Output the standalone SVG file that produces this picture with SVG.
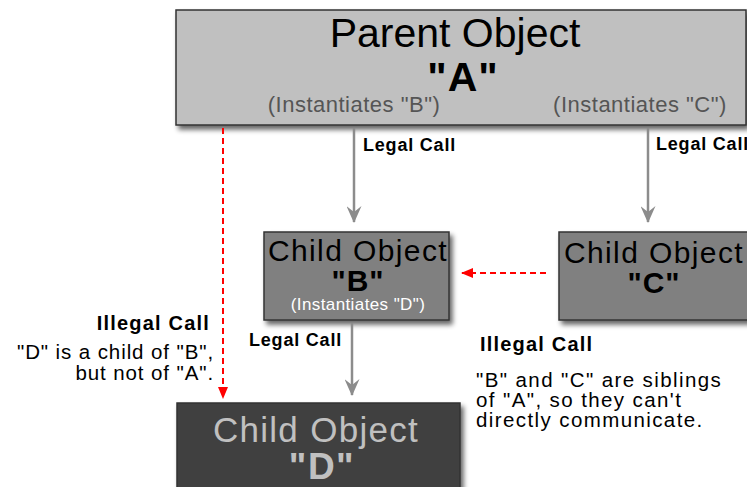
<svg xmlns="http://www.w3.org/2000/svg" width="747" height="487" viewBox="0 0 747 487">
<defs>
<filter id="sh" x="-10%" y="-10%" width="130%" height="140%">
<feGaussianBlur in="SourceAlpha" stdDeviation="2.5"/>
<feOffset dx="3" dy="4" result="b"/>
<feComponentTransfer><feFuncA type="linear" slope="0.6"/></feComponentTransfer>
<feMerge><feMergeNode/><feMergeNode in="SourceGraphic"/></feMerge>
</filter>
<marker id="ag" markerWidth="17" markerHeight="15" refX="16" refY="7.5" orient="auto" markerUnits="userSpaceOnUse" viewBox="0 0 17 15">
<path d="M0,0 L17,7.5 L0,15 L6,7.5 Z" fill="#8c8c8c"/>
</marker>
<marker id="ar" markerWidth="12" markerHeight="10" refX="11" refY="5" orient="auto" markerUnits="userSpaceOnUse" viewBox="0 0 12 10">
<path d="M0,0 L12,5 L0,10 Z" fill="#ff0000"/>
</marker>
</defs>
<style>
text{font-family:"Liberation Sans",Arial,sans-serif}
.box{stroke:#333;stroke-width:1.5}
.bold{font-weight:bold}
.lbl{font-size:18px;font-weight:bold;fill:#000;letter-spacing:0.8px}
.gl{stroke:#8c8c8c;stroke-width:2.5;fill:none}
.rl{stroke:#ff0000;stroke-width:2;stroke-dasharray:6,4;fill:none}
.il{font-size:20px;font-weight:bold;fill:#000;letter-spacing:1.2px}
.nt{font-size:20.5px;fill:#000}
</style>
<g id="A">
<rect class="box" x="176" y="10" width="570" height="115" fill="#c0c0c0" filter="url(#sh)"/>
<text x="455" y="47" font-size="41" text-anchor="middle" fill="#000">Parent Object</text>
<text x="463" y="91" font-size="41" text-anchor="middle" class="bold" fill="#000" letter-spacing="1">"A"</text>
<text x="354" y="112" font-size="22" text-anchor="middle" fill="#555" letter-spacing="0.5">(Instantiates "B")</text>
<text x="640" y="112" font-size="22" text-anchor="middle" fill="#555" letter-spacing="0.5">(Instantiates "C")</text>
</g>
<g id="B">
<rect class="box" x="264" y="232" width="185" height="88" fill="#808080" filter="url(#sh)"/>
<text x="358" y="261" font-size="30" text-anchor="middle" fill="#000" letter-spacing="1.4">Child Object</text>
<text x="358" y="291" font-size="30" text-anchor="middle" class="bold" fill="#000" letter-spacing="1">"B"</text>
<text x="358" y="310" font-size="17" text-anchor="middle" fill="#fff" letter-spacing="0.4">(Instantiates "D")</text>
</g>
<g id="C">
<rect class="box" x="559" y="232" width="190" height="88" fill="#808080" filter="url(#sh)"/>
<text x="654" y="263" font-size="30" text-anchor="middle" fill="#000" letter-spacing="1.4">Child Object</text>
<text x="654" y="293" font-size="30" text-anchor="middle" class="bold" fill="#000" letter-spacing="1">"C"</text>
</g>
<g id="D">
<rect class="box" x="177" y="403" width="283" height="90" fill="#404040" filter="url(#sh)"/>
<text x="316" y="442" font-size="35" text-anchor="middle" fill="#c0c0c0" letter-spacing="1.3">Child Object</text>
<text x="322" y="479" font-size="37" text-anchor="middle" class="bold" fill="#c0c0c0" letter-spacing="1.5">"D"</text>
</g>
<g id="connectors">
<line class="gl" x1="354" y1="128" x2="354" y2="222" marker-end="url(#ag)"/>
<line class="gl" x1="648" y1="128" x2="648" y2="222" marker-end="url(#ag)"/>
<line class="gl" x1="352" y1="323" x2="352" y2="395" marker-end="url(#ag)"/>
<line class="rl" x1="223" y1="128" x2="223" y2="398" marker-end="url(#ar)"/>
<line class="rl" x1="546" y1="273" x2="462" y2="273" marker-end="url(#ar)"/>
<text class="lbl" x="363" y="151">Legal Call</text>
<text class="lbl" x="656" y="150">Legal Call</text>
<text class="lbl" x="249" y="346">Legal Call</text>
</g>
<g id="note-left">
<text class="il" x="210" y="330" text-anchor="end">Illegal Call</text>
<text class="nt" x="214" y="359" text-anchor="end" letter-spacing="0.9">"D" is a child of "B",</text>
<text class="nt" x="214" y="380" text-anchor="end" letter-spacing="0.9">but not of "A".</text>
</g>
<g id="note-right">
<text class="il" x="480" y="351">Illegal Call</text>
<text class="nt" x="476" y="387" letter-spacing="1.4">"B" and "C" are siblings</text>
<text class="nt" x="476" y="407" letter-spacing="1.4">of "A", so they can't</text>
<text class="nt" x="476" y="427" letter-spacing="1.4">directly communicate.</text>
</g>
</svg>
